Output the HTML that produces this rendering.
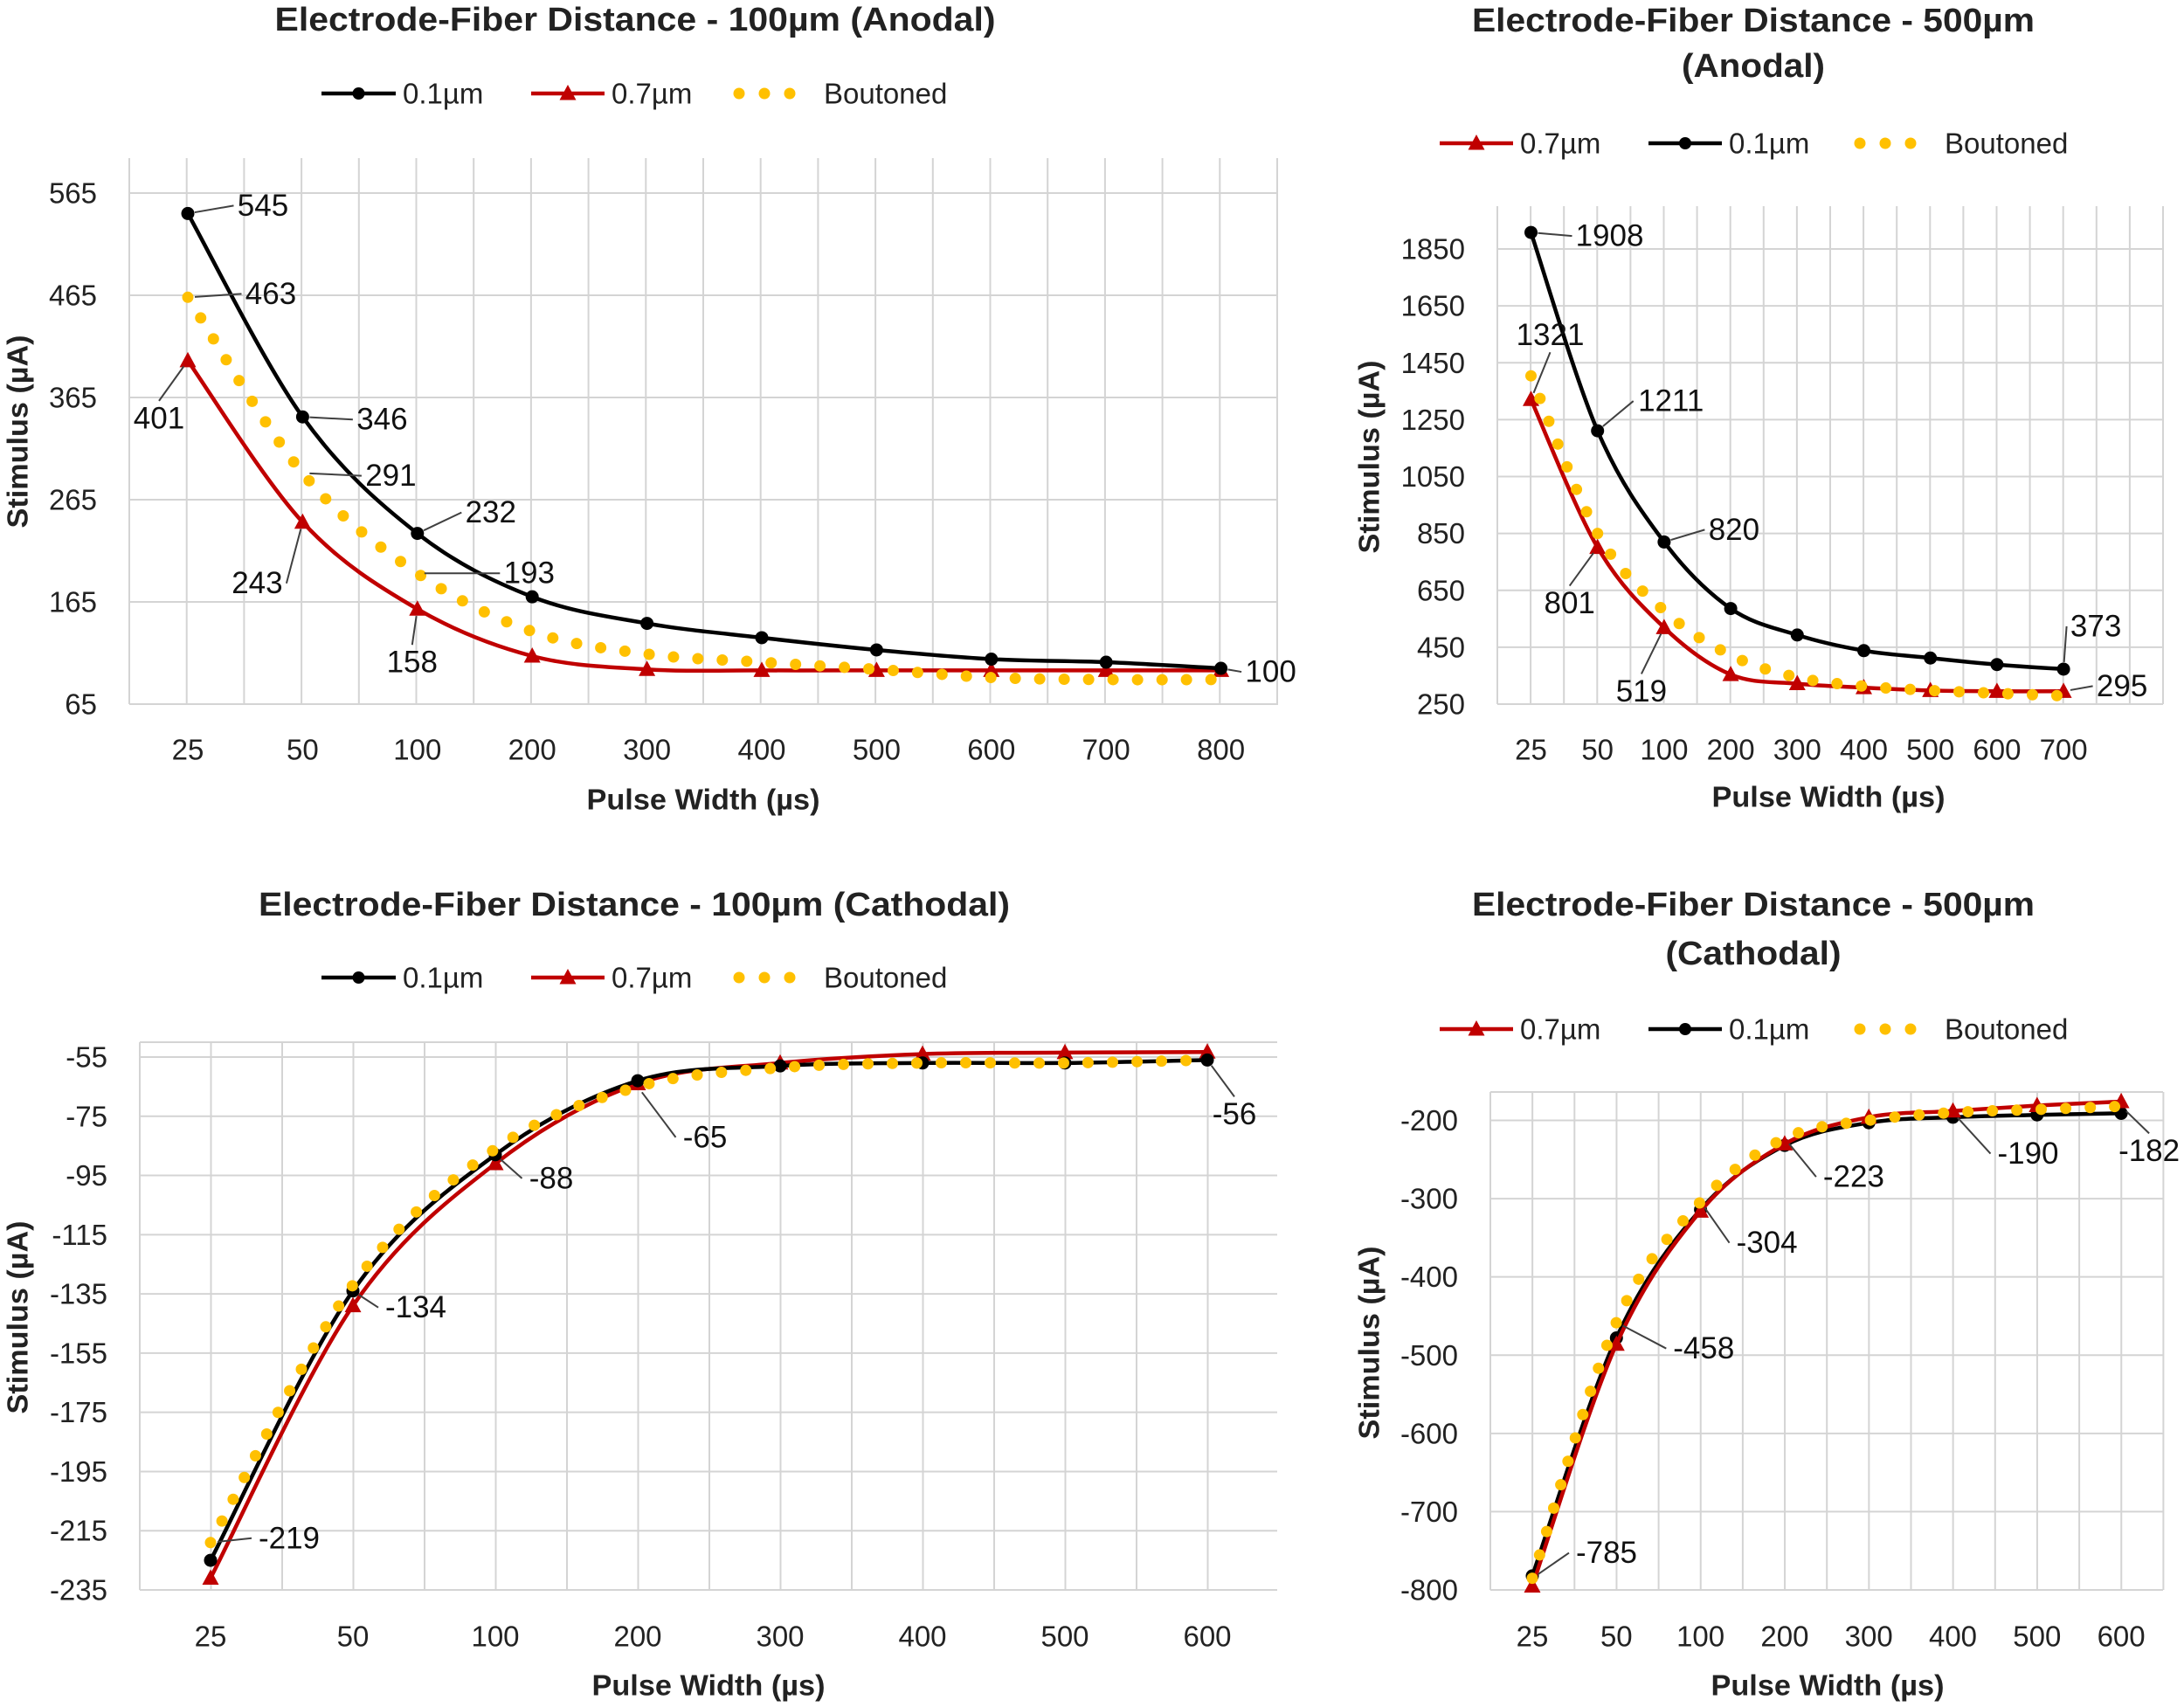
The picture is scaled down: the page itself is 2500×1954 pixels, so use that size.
<!DOCTYPE html>
<html><head><meta charset="utf-8">
<style>
html,body{margin:0;padding:0;background:#fff;}
svg{display:block;font-family:"Liberation Sans",Arial,sans-serif;}
</style></head>
<body>
<svg id="root" width="2500" height="1954" viewBox="0 0 2500 1954" xmlns="http://www.w3.org/2000/svg">
<rect x="0" y="0" width="2500" height="1954" fill="#fff"/>
</svg>
<script>
// ---------- Chart 1: 100µm Anodal ----------
const c1Categories = ['25','50','100','200','300','400','500','600','700','800'];
const c1Ticks = [65,165,265,365,465,565];
const c1Thin = [545,346,232,170,144,130,118,109,106,100];
const c1Thick = [401,243,158,112,99,98,98,98,98,98];
const c1Bout = [463,291,193,136,114,106,99,91,89,89];
// ---------- Chart 2: 500µm Anodal ----------
const c2Categories = ['25','50','100','200','300','400','500','600','700',''];
const c2Ticks = [250,450,650,850,1050,1250,1450,1650,1850];
const c2Thin = [1908,1211,820,586,493,438,412,389,373];
const c2Thick = [1321,801,519,354,322,308,298,295,295];
const c2Bout = [1404,850,578,422,344,313,298,288,279];
// ---------- Chart 3: 100µm Cathodal ----------
const c3Categories = ['25','50','100','200','300','400','500','600'];
const c3Ticks = [-235,-215,-195,-175,-155,-135,-115,-95,-75,-55];
const c3Thin = [-225,-134,-88,-63,-58,-57,-57,-56];
const c3Thick = [-231,-139,-91,-64,-57,-54,-53.5,-53.3];
const c3Bout = [-219,-132,-86,-65,-58.6,-57,-57,-56];
// ---------- Chart 4: 500µm Cathodal ----------
const c4Categories = ['25','50','100','200','300','400','500','600'];
const c4Ticks = [-800,-700,-600,-500,-400,-300,-200];
const c4Thin = [-782,-478,-314,-232,-203,-196,-193,-191];
const c4Thick = [-795,-486,-316,-230,-196,-188,-181,-176];
const c4Bout = [-785,-458,-304,-223,-200,-190,-186,-182];

const NS='http://www.w3.org/2000/svg';
const root=document.getElementById('root');
function mk(tag,attrs,parent){const e=document.createElementNS(NS,tag);for(const k in attrs)e.setAttribute(k,attrs[k]);parent.appendChild(e);return e;}

const BLACK='#000000', RED='#C00000', GOLD='#FFC000', GRID='#d4d4d4';

const charts=[
 {id:'anodal-100', cats:c1Categories, ticks:c1Ticks, thin:c1Thin, thick:c1Thick, bout:c1Bout,
  l:148,r:1463,t:181,b:806, y0:806,y1:221, x0:215, step:131.4, topBorder:false,
  title:['Electrode-Fiber Distance - 100µm (Anodal)'], titleX:727, titleY:[23], titleW:[825],
  legendY:107, legendOrder:['thin','thick','bout'], legendX:[368,608,846],
  xTitle:[805,915], yTitle:[20,494], xTickY:858,
  labels:[['thin',0,86,-9],['thin',1,91,3],['thin',2,84,-24],['thin',9,57,4],
          ['bout',0,95,-4],['bout',1,101,3],['bout',2,128,0],
          ['thick',0,-33,66],['thick',1,-52,70],['thick',2,-6,61]]},
 {id:'anodal-500', cats:c2Categories, ticks:c2Ticks, thin:c2Thin, thick:c2Thick, bout:c2Bout,
  l:1714,r:2476,t:236,b:806, y0:806,y1:285, x0:1752.5, step:76.2, topBorder:false,
  title:['Electrode-Fiber Distance - 500µm','(Anodal)'], titleX:2007, titleY:[24,76], titleW:[644,164],
  legendY:164, legendOrder:['thick','thin','bout'], legendX:[1648,1887,2129],
  xTitle:[2093,912], yTitle:[1567,523], xTickY:858,
  labels:[['thin',0,90,4],['thin',1,84,-34],['thin',2,80,-14],['thin',8,37,-49],
          ['thick',0,22,-74],['thick',1,-32,64],['thick',2,-26,73],['thick',8,67,-6]]},
 {id:'cathodal-100', cats:c3Categories, ticks:c3Ticks, thin:c3Thin, thick:c3Thick, bout:c3Bout,
  l:160,r:1462,t:1193,b:1820, y0:1820,y1:1210, x0:241, step:163, topBorder:true,
  title:['Electrode-Fiber Distance - 100µm (Cathodal)'], titleX:726, titleY:[1036], titleW:[860],
  legendY:1119, legendOrder:['thin','thick','bout'], legendX:[368,608,846],
  xTitle:[811,1929], yTitle:[20,1508], xTickY:1873,
  labels:[['bout',0,90,-5],['thin',1,72,19],['thin',2,64,27],['bout',3,77,58],['thin',7,31,62]]},
 {id:'cathodal-500', cats:c4Categories, ticks:c4Ticks, thin:c4Thin, thick:c4Thick, bout:c4Bout,
  l:1706,r:2476,t:1250,b:1820, y0:1820,y1:1282.5, x0:1754, step:96.3, topBorder:true,
  title:['Electrode-Fiber Distance - 500µm','(Cathodal)'], titleX:2007, titleY:[1036,1092], titleW:[644,201],
  legendY:1178, legendOrder:['thick','thin','bout'], legendX:[1648,1887,2129],
  xTitle:[2092,1929], yTitle:[1567,1537], xTickY:1873,
  labels:[['bout',0,85,-29],['bout',1,100,30],['bout',2,76,47],['bout',3,79,44],['bout',5,86,47],['bout',7,32,51]]}
];

function smoothPath(pts){
  let d='M'+pts[0][0].toFixed(1)+','+pts[0][1].toFixed(1);
  for(let i=0;i<pts.length-1;i++){
    const p0=pts[Math.max(0,i-1)],p1=pts[i],p2=pts[i+1],p3=pts[Math.min(pts.length-1,i+2)];
    const c1x=p1[0]+(p2[0]-p0[0])/6,c1y=p1[1]+(p2[1]-p0[1])/6;
    const c2x=p2[0]-(p3[0]-p1[0])/6,c2y=p2[1]-(p3[1]-p1[1])/6;
    d+=' C'+c1x.toFixed(1)+','+c1y.toFixed(1)+' '+c2x.toFixed(1)+','+c2y.toFixed(1)+' '+p2[0].toFixed(1)+','+p2[1].toFixed(1);
  }
  return d;
}
function triPts(x,y,s){return (x)+','+(y-s)+' '+(x-s*0.95)+','+(y+s*0.75)+' '+(x+s*0.95)+','+(y+s*0.75);}

const seriesName={thin:'0.1µm',thick:'0.7µm',bout:'Boutoned'};

charts.forEach(c=>{
  const g=mk('g',{},root);
  
  
  const tMin=c.ticks[0], tMax=c.ticks[c.ticks.length-1];
  const yS=v=>c.y0-(v-tMin)/(tMax-tMin)*(c.y0-c.y1);
  const xS=i=>c.x0+i*c.step;

  // vertical gridlines (category + half)
  for(let x=c.l;x<=c.r+1;x+=c.step/2){
    const ln=mk('line',{x1:x,x2:x,y1:c.t,y2:c.b,stroke:GRID,'stroke-width':2},g);
    
    
  }
  if(c.topBorder){
    const tb=mk('line',{x1:c.l,x2:c.r,y1:c.t,y2:c.t,stroke:GRID,'stroke-width':2},g);
    
    
  }
  // horizontal gridlines + y tick labels
  c.ticks.forEach(v=>{
    const y=yS(v);
    const ln=mk('line',{x1:c.l,x2:c.r,y1:y,y2:y,stroke:GRID,'stroke-width':2},g);
    
    
    const tx=mk('text',{x:c.l-37,y:y,'text-anchor':'end','dominant-baseline':'central','font-size':33,fill:'#222'},g);
    tx.textContent=String(v);
    
    
  });
  // x tick labels
  c.cats.forEach((lab,i)=>{
    const tx=mk('text',{x:xS(i),y:c.xTickY,'text-anchor':'middle','dominant-baseline':'central','font-size':33,fill:'#222'},g);
    tx.textContent=lab;
    
    
  });
  // titles
  c.title.forEach((t,k)=>{
    const tx=mk('text',{x:c.titleX,y:c.titleY[k],'text-anchor':'middle','dominant-baseline':'central','font-size':38,'font-weight':'bold',fill:'#222',textLength:c.titleW[k],lengthAdjust:'spacingAndGlyphs'},g);
    tx.textContent=t;
    
    
  });
  const xt=mk('text',{x:c.xTitle[0],y:c.xTitle[1],'text-anchor':'middle','dominant-baseline':'central','font-size':33,'font-weight':'bold',fill:'#222',textLength:267,lengthAdjust:'spacingAndGlyphs'},g);
  xt.textContent='Pulse Width (µs)';
  
  
  const yt=mk('text',{x:0,y:0,transform:'translate('+c.yTitle[0]+','+c.yTitle[1]+') rotate(-90)','text-anchor':'middle','dominant-baseline':'central','font-size':33,'font-weight':'bold',fill:'#222',textLength:221,lengthAdjust:'spacingAndGlyphs'},g);
  yt.textContent='Stimulus (µA)';
  
  

  // series
  const ptsOf=arr=>arr.map((v,i)=>[xS(i),yS(v)]);
  const thickPts=ptsOf(c.thick), thinPts=ptsOf(c.thin), boutPts=ptsOf(c.bout);
  const pts={thin:thinPts,thick:thickPts,bout:boutPts};
  const vals={thin:c.thin,thick:c.thick,bout:c.bout};

  const drawLine=(p,color,name)=>{
    const pa=mk('path',{d:smoothPath(p),fill:'none',stroke:color,'stroke-width':4.5,'stroke-linejoin':'round'},g);
    
    
  };
  const order=c.legendOrder[0]==='thin'?['thick','thin']:['thin','thick'];
  order.forEach(s=>{
    drawLine(pts[s], s==='thin'?BLACK:RED, 'series-line-'+(s==='thin'?'0-1um':'0-7um'));
    pts[s].forEach(p=>{
      let m;
      if(s==='thin'){m=mk('circle',{cx:p[0],cy:p[1],r:7.5,fill:BLACK},g);}
      else{m=mk('polygon',{points:triPts(p[0],p[1],10),fill:RED},g);}
      
      
    });
  });
  const bp=mk('path',{d:smoothPath(boutPts),fill:'none',stroke:GOLD,'stroke-width':13,'stroke-linecap':'round','stroke-dasharray':'0 28'},g);
  
  

  // data labels
  c.labels.forEach(L=>{
    const s=L[0],i=L[1],dx=L[2],dy=L[3];
    const p=pts[s][i];
    const txt=String(vals[s][i]);
    const cx=p[0]+dx, cy=p[1]+dy;
    const w=txt.length*19;
    let ex,ey;
    if(Math.abs(dx)>w/2+6){ex=cx-Math.sign(dx)*(w/2+5);ey=cy;}
    else{ex=cx;ey=cy-Math.sign(dy)*20;}
    const d0=Math.hypot(ex-p[0],ey-p[1]);
    if(d0>14){
      const ld=mk('line',{x1:p[0]+(ex-p[0])/d0*8,y1:p[1]+(ey-p[1])/d0*8,x2:ex,y2:ey,stroke:'#404040','stroke-width':2},g);
      
      
    }
    const tx=mk('text',{x:cx,y:cy,'text-anchor':'middle','dominant-baseline':'central','font-size':35,fill:'#111'},g);
    tx.textContent=txt;
    
    
  });

  // legend
  c.legendOrder.forEach((s,k)=>{
    const x=c.legendX[k], y=c.legendY;
    const lg=mk('g',{},g);
    
    
    let tx0;
    if(s==='bout'){
      [0,29,58].forEach(o=>{
        const d=mk('circle',{cx:x+o,cy:y,r:6.5,fill:GOLD},lg);
        
        
      });
      tx0=x+97;
    } else {
      const len=s==='thin'&&c.legendOrder[0]==='thin'?85:84;
      const ln=mk('line',{x1:x,x2:x+len,y1:y,y2:y,stroke:s==='thin'?BLACK:RED,'stroke-width':4.5},lg);
      
      
      let m;
      if(s==='thin') m=mk('circle',{cx:x+len/2,cy:y,r:7,fill:BLACK},lg);
      else m=mk('polygon',{points:triPts(x+len/2,y,10),fill:RED},lg);
      
      
      tx0=x+len+8;
    }
    const t=mk('text',{x:tx0,y:y,'dominant-baseline':'central','font-size':33,fill:'#222'},lg);
    t.textContent=seriesName[s];
    
    
  });
});
</script>
</body></html>
